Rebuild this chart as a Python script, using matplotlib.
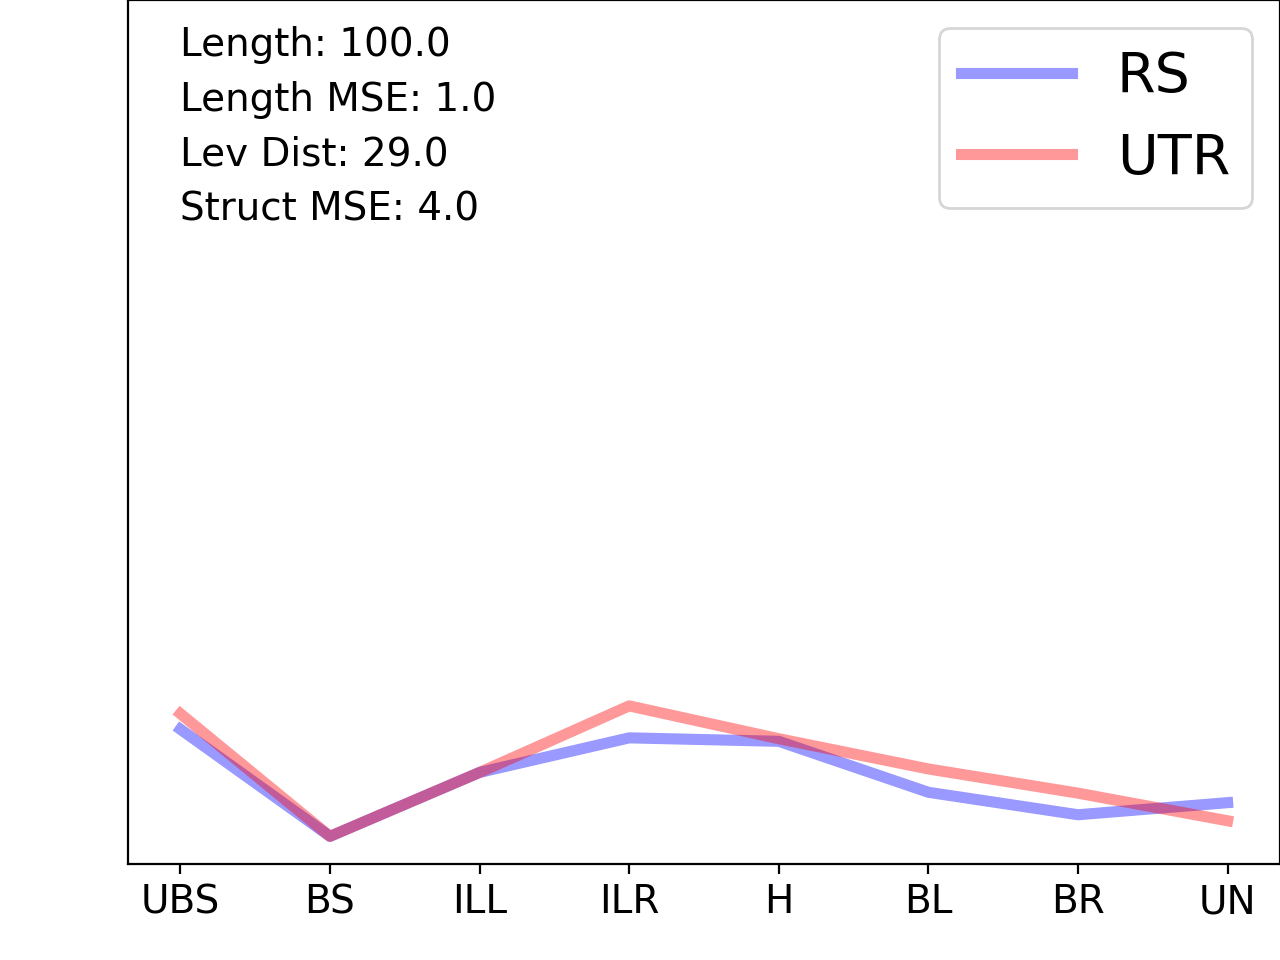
import matplotlib
matplotlib.use("Agg")
import matplotlib.pyplot as plt

# -------------------- DATA --------------------
categories = ["UBS", "BS", "ILL", "ILR", "H", "BL", "BR", "UN"]
rs_values = [0.156, 0.032, 0.106, 0.146, 0.142, 0.083, 0.057, 0.071]
utr_values = [0.174, 0.032, 0.106, 0.183, 0.145, 0.110, 0.082, 0.050]
stats_text = "Length: 100.0\nLength MSE: 1.0\nLev Dist: 29.0\nStruct MSE: 4.0"

# -------------------- PLOT --------------------
fig = plt.figure(figsize=(6.4, 4.8), dpi=200)
ax = fig.add_axes([0.1, 0.1, 0.9, 0.9])

x = range(len(categories))
ax.plot(x, rs_values, color="blue", alpha=0.4, linewidth=4, label="RS")
ax.plot(x, utr_values, color="red", alpha=0.4, linewidth=4, label="UTR")

ax.set_ylim(0, 1)
ax.set_yticks([])
ax.set_xticks(list(x))
ax.set_xticklabels(categories, fontsize=14)

ax.text(0.045, 0.970, stats_text, transform=ax.transAxes, fontsize=14,
        va="top", ha="left", linespacing=1.565)
ax.legend(loc="upper right", fontsize=20)

fig.savefig("out.png", dpi=200)
